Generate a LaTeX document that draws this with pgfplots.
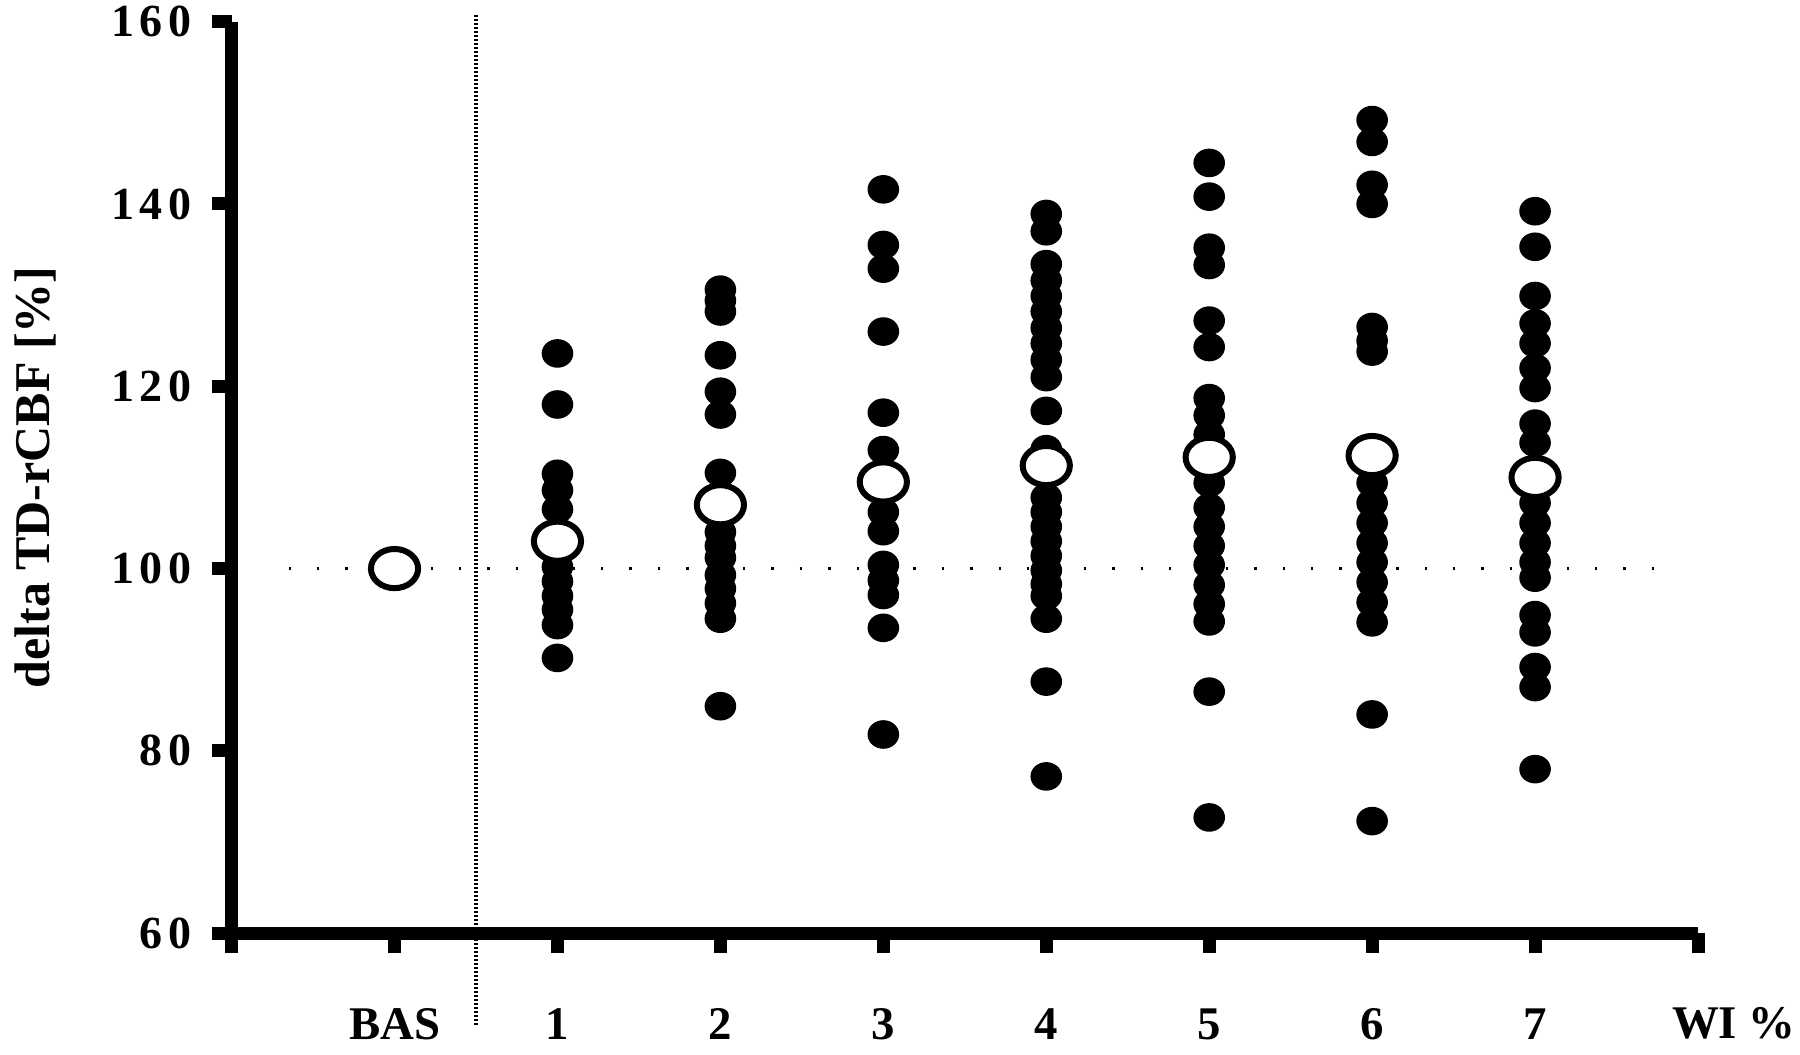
\documentclass[border=0pt]{standalone}
\usepackage{fontspec}
\setmainfont{Liberation Serif}
\newfontfamily\tickfont{Liberation Serif}[LetterSpace=12]
\usepackage{pgfplots}
\usepackage{pgfplotstable}
\pgfplotsset{compat=1.18}

\pgfplotstableread{
x y
1 123.6
1 118.0
1 110.4
1 108.6
1 106.5
1 100.2
1 98.6
1 97.0
1 95.5
1 93.8
1 90.2
2 130.6
2 129.4
2 128.2
2 123.4
2 119.4
2 116.9
2 110.5
2 104.0
2 102.5
2 101.2
2 99.3
2 97.8
2 96.2
2 94.5
2 84.9
3 141.6
3 135.5
3 132.9
3 126.0
3 117.1
3 113.0
3 106.2
3 104.1
3 100.4
3 98.7
3 97.1
3 93.5
3 81.8
4 138.9
4 137.0
4 133.4
4 131.6
4 129.9
4 128.2
4 126.4
4 124.7
4 122.9
4 121.0
4 117.3
4 113.1
4 107.8
4 106.2
4 104.6
4 103.0
4 101.4
4 99.8
4 98.3
4 97.0
4 94.5
4 87.6
4 77.2
5 144.5
5 140.8
5 135.2
5 133.3
5 127.2
5 124.3
5 118.7
5 116.8
5 114.7
5 109.4
5 106.7
5 104.6
5 102.5
5 100.4
5 98.2
5 96.1
5 94.2
5 86.5
5 72.7
6 149.2
6 146.8
6 142.1
6 140.0
6 126.5
6 125.0
6 123.8
6 109.4
6 107.2
6 105.0
6 102.8
6 100.7
6 98.5
6 96.3
6 94.1
6 84.0
6 72.3
7 139.2
7 135.3
7 129.9
7 126.9
7 124.7
7 122.0
7 119.8
7 115.9
7 113.8
7 107.2
7 105.0
7 102.8
7 100.7
7 99.0
7 94.9
7 93.0
7 89.2
7 87.0
7 78.0
}\dotdata

\pgfplotstableread{
x y
0 100.0
1 103.0
2 107.0
3 109.5
4 111.3
5 112.2
6 112.4
7 110.0
}\meandata

\begin{document}
\begin{tikzpicture}
\useasboundingbox (-57.9pt,-30.2pt) rectangle (392.1pt,233.3pt);
\begin{axis}[
  at={(0,0)}, anchor=south west,
  scale only axis, width=366.6pt, height=227.9pt,
  xmin=-1, xmax=8, ymin=60, ymax=160,
  axis x line*=bottom, axis y line*=left,
  axis line style={line width=3.25pt, -},
  xtick={-1,0,1,2,3,4,5,6,7,8},
  xticklabels={,BAS,1,2,3,4,5,6,7,},
  ytick={60,80,100,120,140,160},
  tick align=outside, major tick length=5pt,
  tick style={line width=3.25pt, black},
  xticklabel style={font=\fontsize{11.7}{13}\selectfont\bfseries, anchor=base},
  xticklabel shift=21.5pt,
  yticklabel style={font=\fontsize{11.5}{13}\selectfont\tickfont\bfseries, anchor=east, xshift=-1.5pt},
  /pgf/number format/assume math mode=true,
  clip=false,
]
\draw[line width=0.6pt, dash pattern=on 0.6pt off 6.5pt] (axis cs:-0.65,100) -- (axis cs:7.88,100);
\draw[line width=0.8pt, dash pattern=on 0.5pt off 0.5pt] (axis cs:0.5,160.7) -- (axis cs:0.5,49.7);
\addplot[only marks, mark=*, mark size=3.75pt, mark options={draw=none, fill=black, yscale=0.9}] table[x=x, y=y] {\dotdata};
\addplot[only marks, mark=*, mark size=5.9pt, mark options={fill=white, draw=black, line width=1.5pt, yscale=0.83}] table[x=x, y=y] {\meandata};
\node[rotate=90, anchor=center, font=\fontsize{12.5}{14}\selectfont\bfseries] at (axis cs:-2.203,110) {delta TD-rCBF [\%]};
\node[anchor=base, font=\fontsize{11.7}{13}\selectfont\bfseries] at (axis cs:8.22,48.4) {WI \%};
\end{axis}
\end{tikzpicture}
\end{document}
